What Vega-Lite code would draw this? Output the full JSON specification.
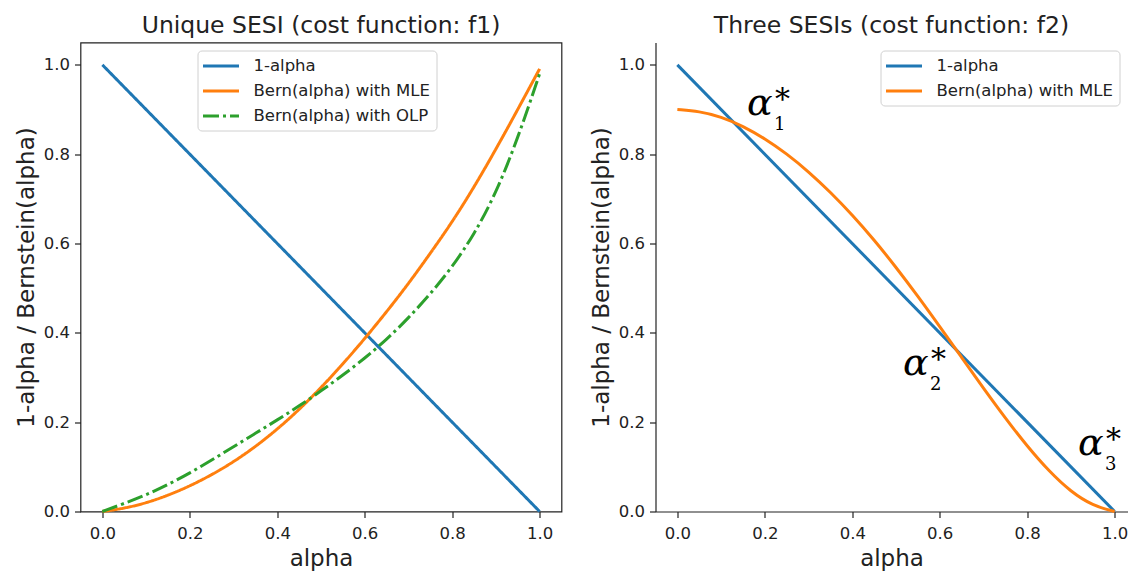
{
  "$schema": "https://vega.github.io/schema/vega-lite/v6.json",
  "padding": {"left": 14.5, "top": 12.5, "right": 0, "bottom": 0},
  "bounds": "flush",
  "spacing": 94,
  "background": "white",
  "config": {
    "font": "DejaVu Sans",
    "view": {"stroke": "#222222", "strokeWidth": 1.2},
    "axis": {
      "labelFont": "DejaVu Sans", "labelFontSize": 16.5, "labelColor": "#222222",
      "titleFont": "DejaVu Sans", "titleFontSize": 23, "titleFontWeight": "normal", "titleColor": "#222222",
      "tickColor": "#222222", "tickSize": 6, "tickWidth": 1.2, "domain": false, "grid": false, "labelPadding": 5,
      "domainColor": "#222222", "domainWidth": 1.2
    },
    "axisY": {"titlePadding": 5},
    "axisX": {"titlePadding": 5, "labelPadding": 8},
    "title": {"font": "DejaVu Sans", "fontSize": 23.5, "fontWeight": "normal", "color": "#222222", "anchor": "middle", "baseline": "alphabetic", "offset": 5},
    "legend": {
      "orient": "none", "title": null, "labelFont": "DejaVu Sans", "labelFontSize": 16.5, "labelColor": "#222222", "labelLimit": 0,
      "symbolType": "M-2.25,0H2.25", "symbolStrokeWidth": 2.8, "symbolSize": 256, "symbolOffset": 8, "labelOffset": 23,
      "strokeColor": "#d0d0d0", "fillColor": "rgba(255,255,255,0.85)", "cornerRadius": 4, "padding": 6, "rowPadding": 7
    }
  },
  "datasets": {
    "left": [
      {"alpha": 0, "value": 1, "series": "1-alpha"},
      {"alpha": 1, "value": 0, "series": "1-alpha"},
      {"alpha": 0, "value": 0, "series": "Bern(alpha) with MLE"},
      {"alpha": 0.05, "value": 0.007, "series": "Bern(alpha) with MLE"},
      {"alpha": 0.1, "value": 0.019, "series": "Bern(alpha) with MLE"},
      {"alpha": 0.15, "value": 0.036, "series": "Bern(alpha) with MLE"},
      {"alpha": 0.2, "value": 0.057, "series": "Bern(alpha) with MLE"},
      {"alpha": 0.25, "value": 0.082, "series": "Bern(alpha) with MLE"},
      {"alpha": 0.3, "value": 0.111, "series": "Bern(alpha) with MLE"},
      {"alpha": 0.35, "value": 0.145, "series": "Bern(alpha) with MLE"},
      {"alpha": 0.4, "value": 0.184, "series": "Bern(alpha) with MLE"},
      {"alpha": 0.45, "value": 0.228, "series": "Bern(alpha) with MLE"},
      {"alpha": 0.5, "value": 0.277, "series": "Bern(alpha) with MLE"},
      {"alpha": 0.55, "value": 0.33, "series": "Bern(alpha) with MLE"},
      {"alpha": 0.6, "value": 0.387, "series": "Bern(alpha) with MLE"},
      {"alpha": 0.65, "value": 0.447, "series": "Bern(alpha) with MLE"},
      {"alpha": 0.7, "value": 0.51, "series": "Bern(alpha) with MLE"},
      {"alpha": 0.75, "value": 0.578, "series": "Bern(alpha) with MLE"},
      {"alpha": 0.8, "value": 0.648, "series": "Bern(alpha) with MLE"},
      {"alpha": 0.85, "value": 0.726, "series": "Bern(alpha) with MLE"},
      {"alpha": 0.9, "value": 0.811, "series": "Bern(alpha) with MLE"},
      {"alpha": 0.95, "value": 0.9, "series": "Bern(alpha) with MLE"},
      {"alpha": 1.0, "value": 0.991, "series": "Bern(alpha) with MLE"},
      {"alpha": 0, "value": 0, "series": "Bern(alpha) with OLP"},
      {"alpha": 0.05, "value": 0.018, "series": "Bern(alpha) with OLP"},
      {"alpha": 0.1, "value": 0.037, "series": "Bern(alpha) with OLP"},
      {"alpha": 0.15, "value": 0.06, "series": "Bern(alpha) with OLP"},
      {"alpha": 0.2, "value": 0.086, "series": "Bern(alpha) with OLP"},
      {"alpha": 0.25, "value": 0.115, "series": "Bern(alpha) with OLP"},
      {"alpha": 0.3, "value": 0.145, "series": "Bern(alpha) with OLP"},
      {"alpha": 0.35, "value": 0.175, "series": "Bern(alpha) with OLP"},
      {"alpha": 0.4, "value": 0.205, "series": "Bern(alpha) with OLP"},
      {"alpha": 0.45, "value": 0.236, "series": "Bern(alpha) with OLP"},
      {"alpha": 0.5, "value": 0.27, "series": "Bern(alpha) with OLP"},
      {"alpha": 0.55, "value": 0.305, "series": "Bern(alpha) with OLP"},
      {"alpha": 0.6, "value": 0.343, "series": "Bern(alpha) with OLP"},
      {"alpha": 0.65, "value": 0.385, "series": "Bern(alpha) with OLP"},
      {"alpha": 0.7, "value": 0.433, "series": "Bern(alpha) with OLP"},
      {"alpha": 0.75, "value": 0.487, "series": "Bern(alpha) with OLP"},
      {"alpha": 0.8, "value": 0.547, "series": "Bern(alpha) with OLP"},
      {"alpha": 0.85, "value": 0.62, "series": "Bern(alpha) with OLP"},
      {"alpha": 0.9, "value": 0.712, "series": "Bern(alpha) with OLP"},
      {"alpha": 0.95, "value": 0.835, "series": "Bern(alpha) with OLP"},
      {"alpha": 1.0, "value": 0.98, "series": "Bern(alpha) with OLP"}
    ],
    "right": [
      {"alpha": 0, "value": 1, "series": "1-alpha"},
      {"alpha": 1, "value": 0, "series": "1-alpha"},
      {"alpha": 0, "value": 0.9, "series": "Bern(alpha) with MLE"},
      {"alpha": 0.05, "value": 0.896, "series": "Bern(alpha) with MLE"},
      {"alpha": 0.1, "value": 0.884, "series": "Bern(alpha) with MLE"},
      {"alpha": 0.15, "value": 0.863, "series": "Bern(alpha) with MLE"},
      {"alpha": 0.2, "value": 0.835, "series": "Bern(alpha) with MLE"},
      {"alpha": 0.25, "value": 0.801, "series": "Bern(alpha) with MLE"},
      {"alpha": 0.3, "value": 0.761, "series": "Bern(alpha) with MLE"},
      {"alpha": 0.35, "value": 0.715, "series": "Bern(alpha) with MLE"},
      {"alpha": 0.4, "value": 0.664, "series": "Bern(alpha) with MLE"},
      {"alpha": 0.45, "value": 0.608, "series": "Bern(alpha) with MLE"},
      {"alpha": 0.5, "value": 0.547, "series": "Bern(alpha) with MLE"},
      {"alpha": 0.55, "value": 0.482, "series": "Bern(alpha) with MLE"},
      {"alpha": 0.6, "value": 0.414, "series": "Bern(alpha) with MLE"},
      {"alpha": 0.65, "value": 0.345, "series": "Bern(alpha) with MLE"},
      {"alpha": 0.7, "value": 0.276, "series": "Bern(alpha) with MLE"},
      {"alpha": 0.75, "value": 0.209, "series": "Bern(alpha) with MLE"},
      {"alpha": 0.8, "value": 0.146, "series": "Bern(alpha) with MLE"},
      {"alpha": 0.85, "value": 0.09, "series": "Bern(alpha) with MLE"},
      {"alpha": 0.9, "value": 0.044, "series": "Bern(alpha) with MLE"},
      {"alpha": 0.95, "value": 0.013, "series": "Bern(alpha) with MLE"},
      {"alpha": 1.0, "value": 0.0, "series": "Bern(alpha) with MLE"}
    ],
    "notes": [
      {"alpha": 0.159, "value": 0.887, "sub": "1"},
      {"alpha": 0.516, "value": 0.306, "sub": "2"},
      {"alpha": 0.916, "value": 0.127, "sub": "3"}
    ]
  },
  "resolve": {"scale": {"color": "independent", "strokeDash": "independent"}, "legend": {"color": "independent", "strokeDash": "independent"}},
  "hconcat": [
    {
      "width": 481,
      "height": 469,
      "title": "Unique SESI (cost function: f1)",
      "data": {"name": "left"},
      "mark": {"type": "line", "strokeWidth": 3, "interpolate": "basis"},
      "encoding": {
        "x": {"field": "alpha", "type": "quantitative", "title": "alpha",
              "scale": {"domain": [-0.05, 1.05], "nice": false, "zero": false},
              "axis": {"values": [0, 0.2, 0.4, 0.6, 0.8, 1.0], "format": ".1f"}},
        "y": {"field": "value", "type": "quantitative", "title": "1-alpha / Bernstein(alpha)",
              "scale": {"domain": [0, 1.05], "nice": false, "zero": false},
              "axis": {"values": [0, 0.2, 0.4, 0.6, 0.8, 1.0], "format": ".1f"}},
        "color": {"field": "series", "type": "nominal",
                  "scale": {"domain": ["1-alpha", "Bern(alpha) with MLE", "Bern(alpha) with OLP"], "range": ["#1f77b4", "#ff7f0e", "#2ca02c"]},
                  "legend": {"legendX": 117, "legendY": 8}},
        "strokeDash": {"field": "series", "type": "nominal",
                  "scale": {"domain": ["1-alpha", "Bern(alpha) with MLE", "Bern(alpha) with OLP"], "range": [[1, 0], [1, 0], [16, 4, 3, 4]]},
                  "legend": {"legendX": 117, "legendY": 8}}
      }
    },
    {
      "width": 472,
      "height": 469,
      "title": "Three SESIs (cost function: f2)",
      "view": {"stroke": null},
      "layer": [
        {
          "data": {"name": "right"},
          "mark": {"type": "line", "strokeWidth": 3, "interpolate": "basis"},
          "encoding": {
            "x": {"field": "alpha", "type": "quantitative", "title": "alpha",
                  "scale": {"domain": [-0.05, 1.0294], "nice": false, "zero": false},
                  "axis": {"values": [0, 0.2, 0.4, 0.6, 0.8, 1.0], "format": ".1f", "domain": true}},
            "y": {"field": "value", "type": "quantitative", "title": "1-alpha / Bernstein(alpha)",
                  "scale": {"domain": [0, 1.05], "nice": false, "zero": false},
                  "axis": {"values": [0, 0.2, 0.4, 0.6, 0.8, 1.0], "format": ".1f", "domain": true}},
            "color": {"field": "series", "type": "nominal",
                      "scale": {"domain": ["1-alpha", "Bern(alpha) with MLE"], "range": ["#1f77b4", "#ff7f0e"]},
                      "legend": {"legendX": 225, "legendY": 8}}
          }
        },
        {
          "mark": {"type": "rule", "color": "#222222", "strokeWidth": 1.2},
          "encoding": {"y": {"datum": 1.05}}
        },
        {
          "data": {"name": "notes"},
          "mark": {"type": "text", "text": "α", "font": "DejaVu Serif", "fontStyle": "italic", "fontSize": 38, "align": "left", "baseline": "alphabetic", "color": "black"},
          "encoding": {"x": {"field": "alpha", "type": "quantitative"}, "y": {"field": "value", "type": "quantitative"}}
        },
        {
          "data": {"name": "notes"},
          "mark": {"type": "text", "text": "*", "font": "DejaVu Serif", "fontSize": 30, "align": "left", "baseline": "alphabetic", "dx": 28, "dy": -6, "color": "black"},
          "encoding": {"x": {"field": "alpha", "type": "quantitative"}, "y": {"field": "value", "type": "quantitative"}}
        },
        {
          "data": {"name": "notes"},
          "mark": {"type": "text", "font": "DejaVu Serif", "fontSize": 18, "align": "left", "baseline": "alphabetic", "dx": 27, "dy": 15, "color": "black"},
          "encoding": {"x": {"field": "alpha", "type": "quantitative"}, "y": {"field": "value", "type": "quantitative"}, "text": {"field": "sub"}}
        }
      ]
    }
  ]
}
